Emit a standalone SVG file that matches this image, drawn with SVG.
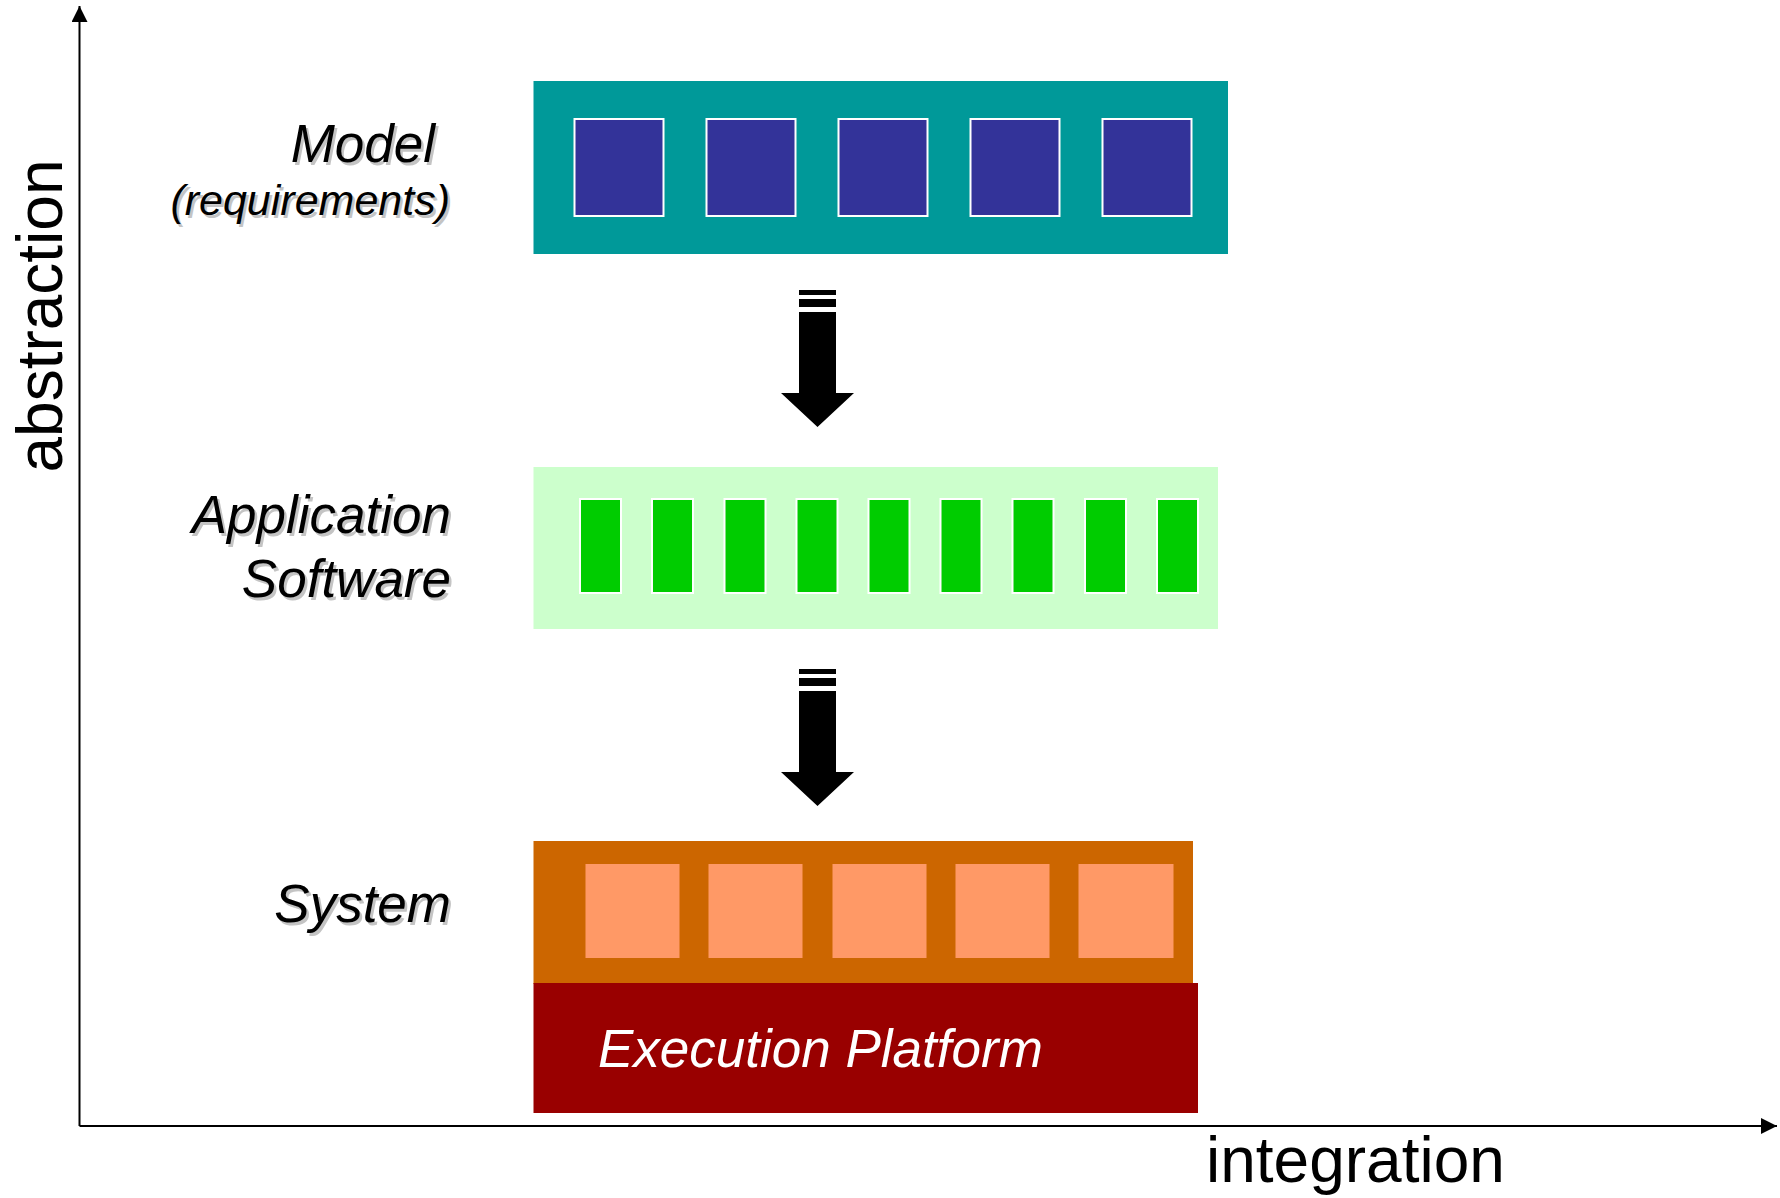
<svg xmlns="http://www.w3.org/2000/svg" width="1780" height="1198" viewBox="0 0 1780 1198">
<style>
.lbl{font-family:"Liberation Sans",Arial,sans-serif;font-style:italic;font-size:53px;text-anchor:end}
.shadow{fill:#c4c4c4}
.ink{fill:#000}
.axis{font-family:"Liberation Sans",Arial,sans-serif;font-size:64px;fill:#000}
.blue{fill:#333399;stroke:#fff;stroke-width:2}
.green{fill:#00cc00;stroke:#fff;stroke-width:2}
.salmon{fill:#ff9966}
</style>
<defs>
<marker id="ah" markerUnits="userSpaceOnUse" markerWidth="18" markerHeight="16" refX="16" refY="8" orient="auto">
<path d="M0,0 L16,8 L0,16 Z" fill="#000"/>
</marker>
<g id="bigArrow">
<rect x="799" y="290" width="37" height="5" fill="#000"/>
<rect x="799" y="299" width="37" height="8" fill="#000"/>
<path d="M799,312 H836 V393 H854 L817.5,427 L781,393 H799 Z" fill="#000"/>
</g>
</defs>
<rect width="1780" height="1198" fill="#fff"/>

<g id="connectors">
<line x1="79.5" y1="1126" x2="79.5" y2="6" stroke="#000" stroke-width="2" marker-end="url(#ah)"/>
<line x1="79.5" y1="1126" x2="1777" y2="1126" stroke="#000" stroke-width="2" marker-end="url(#ah)"/>
<use href="#bigArrow"/>
<use href="#bigArrow" transform="translate(0,379)"/>
</g>

<g id="axis-labels">
<text class="axis" transform="translate(62,316) rotate(-90)" text-anchor="middle">abstraction</text>
<text class="axis" x="1206" y="1182">integration</text>
</g>

<g id="model">
<rect x="533.5" y="81" width="694.5" height="173" fill="#009999"/>
<rect class="blue" x="574.5" y="119" width="89" height="97"/>
<rect class="blue" x="706.5" y="119" width="89" height="97"/>
<rect class="blue" x="838.5" y="119" width="89" height="97"/>
<rect class="blue" x="970.5" y="119" width="89" height="97"/>
<rect class="blue" x="1102.5" y="119" width="89" height="97"/>
<text class="lbl shadow" x="437.5" y="164.5">Model</text>
<text class="lbl ink" x="435" y="162">Model</text>
<text class="lbl shadow" x="452.5" y="217.5" style="font-size:43px">(requirements)</text>
<text class="lbl ink" x="450" y="215" style="font-size:43px">(requirements)</text>
</g>

<g id="application-software">
<rect x="533.5" y="467" width="684.5" height="162" fill="#ccffcc"/>
<rect class="green" x="580" y="499" width="41" height="94"/>
<rect class="green" x="652" y="499" width="41" height="94"/>
<rect class="green" x="724.5" y="499" width="41" height="94"/>
<rect class="green" x="796.5" y="499" width="41" height="94"/>
<rect class="green" x="868.5" y="499" width="41" height="94"/>
<rect class="green" x="940.5" y="499" width="41" height="94"/>
<rect class="green" x="1012.5" y="499" width="41" height="94"/>
<rect class="green" x="1085" y="499" width="41" height="94"/>
<rect class="green" x="1157" y="499" width="41" height="94"/>
<text class="lbl shadow" x="453.5" y="535.5">Application</text>
<text class="lbl ink" x="451" y="533">Application</text>
<text class="lbl shadow" x="453.5" y="599.5">Software</text>
<text class="lbl ink" x="451" y="597">Software</text>
</g>

<g id="system">
<rect x="533.5" y="841" width="659.5" height="143" fill="#cc6600"/>
<rect class="salmon" x="585.5" y="864" width="94" height="94"/>
<rect class="salmon" x="708.5" y="864" width="94" height="94"/>
<rect class="salmon" x="832.5" y="864" width="94" height="94"/>
<rect class="salmon" x="955.5" y="864" width="94" height="94"/>
<rect class="salmon" x="1078.5" y="864" width="95" height="94"/>
<text class="lbl shadow" x="453.5" y="924.5">System</text>
<text class="lbl ink" x="451" y="922">System</text>
</g>

<g id="execution-platform">
<rect x="533.5" y="983" width="664.5" height="130" fill="#990000"/>
<text x="598" y="1067" style="font-family:'Liberation Sans',Arial,sans-serif;font-style:italic;font-size:53px;fill:#fff">Execution Platform</text>
</g>
</svg>
